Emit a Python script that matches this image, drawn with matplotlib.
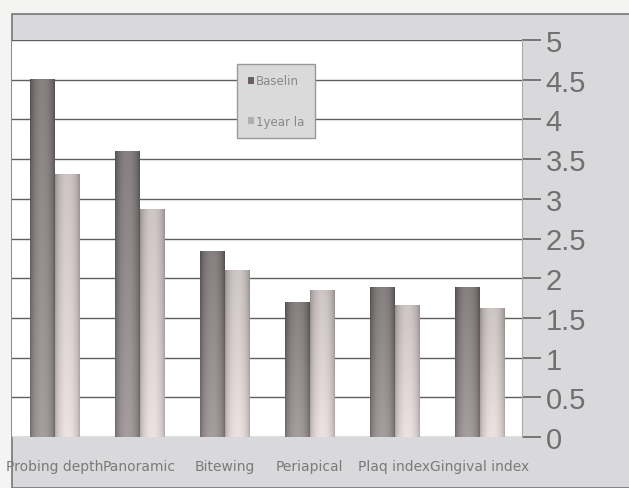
import matplotlib.pyplot as plt
import numpy as np
from matplotlib.patches import Rectangle
from matplotlib import font_manager

categories = ['Probing depth', 'Panoramic', 'Bitewing', 'Periapical', 'Plaq index', 'Gingival index']
baseline = [4.5, 3.6, 2.34, 1.7, 1.88, 1.88]
year_later = [3.3, 2.87, 2.1, 1.84, 1.65, 1.62]
series_names = ['Baselin', '1year la']

names = {f.name for f in font_manager.fontManager.ttflist}
tick_font = 'Liberation Sans Narrow' if 'Liberation Sans Narrow' in names else 'Liberation Sans'

fig = plt.figure(figsize=(6.29, 4.89), dpi=100, facecolor='#f4f4f2')
# gray frame of the chart
fig.patches.append(Rectangle((12 / 629, 0), 1, (489 - 15) / 489, transform=fig.transFigure,
                             facecolor='#d9d9db', edgecolor='#777777', lw=1.2, zorder=-5))

ax = fig.add_axes([12 / 629, 51 / 489, 510 / 629, 397 / 489])
ax.set_facecolor('white')

x = np.arange(len(categories))
w = 0.285
b1 = ax.bar(x - w / 2, baseline, w, color='#6a6060', zorder=3)
b2 = ax.bar(x + w / 2, year_later, w, color='#b5aeae', zorder=3)

# shading to look like the scanned gradient bars
hx = np.sin(np.linspace(0, 1, 48) * np.pi) ** 0.6
tint = np.array([1.0, 0.955, 0.955])
for bars, lo, hi in [(b1, 0.36, 0.58), (b2, 0.62, 0.86)]:
    for p in bars:
        rows = max(int(p.get_height() * 40), 2)
        vy = np.linspace(-0.05, 0.07, rows)[:, None]
        g = np.clip(lo + (hi - lo) * hx[None, :] + vy, 0, 1)
        img = g[:, :, None] * tint[None, None, :]
        ax.imshow(img, aspect='auto', zorder=3.5, interpolation='bilinear',
                  extent=(p.get_x(), p.get_x() + p.get_width(), 0, p.get_height()))

ax.set_xlim(-0.5, len(categories) - 0.5)
ax.set_ylim(0, 5)
ax.yaxis.tick_right()
ax.set_yticks(np.arange(0, 5.01, 0.5))
ax.set_yticklabels(['0', '0.5', '1', '1.5', '2', '2.5', '3', '3.5', '4', '4.5', '5'])
ax.tick_params(axis='y', length=14, width=1.1, color='#5a5a5a', labelsize=21,
               labelcolor='#707070', pad=3, labelfontfamily=tick_font)
ax.grid(axis='y', color='#5e5e5e', lw=1.0, zorder=1)
ax.set_xticks(x)
ax.set_xticklabels(categories)
ax.tick_params(axis='x', length=0, labelsize=10, labelcolor='#7a7a7a', pad=16)
for s in ['top', 'left', 'bottom']:
    ax.spines[s].set_visible(False)
ax.spines['right'].set_color('#aaaaaa')

leg = ax.legend([b1, b2], series_names, loc='upper left', bbox_to_anchor=(0.43, 0.955),
                fontsize=8.5, frameon=True, fancybox=False, facecolor='#dadada',
                edgecolor='#999999', handlelength=0.5, handleheight=0.5,
                handletextpad=0.2, labelspacing=2.3, borderpad=0.9, labelcolor='#888888')
leg.get_frame().set_alpha(1)

fig.savefig('out.png', dpi=100, facecolor=fig.get_facecolor())
